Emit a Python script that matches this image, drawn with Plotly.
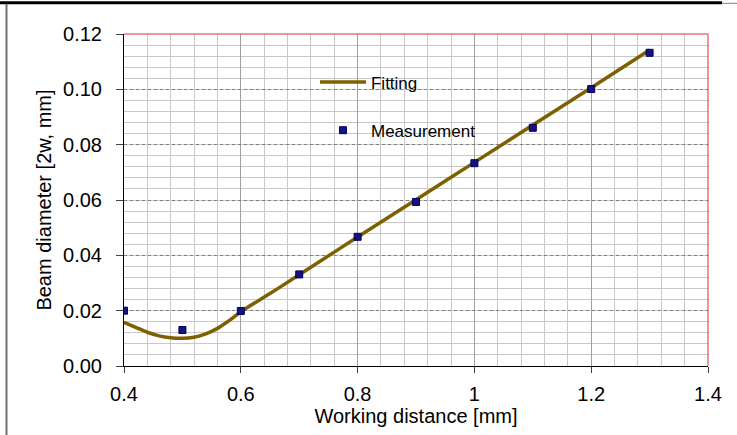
import plotly.graph_objects as go

# Measurement data
meas_x = [0.4, 0.5, 0.6, 0.7, 0.8, 0.9, 1.0, 1.1, 1.2, 1.3]
meas_y = [0.0200, 0.0130, 0.0199, 0.0331, 0.0467, 0.0593, 0.0733, 0.0861, 0.1001, 0.1132]

# Fitting curve
fit_x = [0.40, 0.42, 0.44, 0.46, 0.48, 0.50, 0.52, 0.54, 0.56, 0.58, 0.60, 0.65, 0.70,
         0.80, 0.90, 1.00, 1.10, 1.20, 1.30]
fit_y = [0.0158, 0.0140, 0.0122, 0.0109, 0.0102, 0.0100, 0.0104, 0.0116, 0.0136, 0.0164,
         0.0196, 0.0262, 0.0330, 0.0466, 0.0601, 0.0736, 0.0871, 0.1006, 0.1142]

x_ticks = [0.4, 0.6, 0.8, 1.0, 1.2, 1.4]
x_ticktext = ["0.4", "0.6", "0.8", "1", "1.2", "1.4"]
y_ticks = [0.00, 0.02, 0.04, 0.06, 0.08, 0.10, 0.12]
y_ticktext = ["0.00", "0.02", "0.04", "0.06", "0.08", "0.10", "0.12"]

FONT = "Arial, Liberation Sans, sans-serif"

fig = go.Figure()
fig.add_trace(go.Scatter(
    x=fit_x, y=fit_y, mode="lines", name="Fitting",
    line=dict(color="#7f6000", width=3.5, shape="spline"),
    legendgroup="a",
))
fig.add_trace(go.Scatter(
    x=meas_x, y=meas_y, mode="markers", name="Measurement",
    marker=dict(symbol="square", size=7, color="#14147a",
                line=dict(color="#000066", width=1)),
    legendgroup="b",
))

fig.update_layout(
    width=737, height=435,
    margin=dict(l=124, r=29, t=34, b=67),
    paper_bgcolor="white", plot_bgcolor="white",
    font=dict(family=FONT, size=20, color="black"),
    showlegend=True,
    legend=dict(
        x=0.327, y=0.908, xanchor="left", yanchor="top",
        bgcolor="rgba(0,0,0,0)", borderwidth=0,
        font=dict(family=FONT, size=17, color="black"),
        itemwidth=46, tracegroupgap=23,
    ),
    xaxis=dict(
        range=[0.4, 1.4], tickvals=x_ticks, ticktext=x_ticktext,
        showline=True, linecolor="black", linewidth=1,
        ticks="outside", ticklen=6, tickcolor="#404040",
        ticklabelstandoff=4,
        showgrid=True, gridcolor="#a0a0a0", gridwidth=1,
        zeroline=False,
        minor=dict(dtick=0.04, tick0=0, showgrid=True, gridcolor="#c8c8c8",
                   gridwidth=1, griddash="solid"),
        title=dict(text="Working distance [mm]", font=dict(size=20), standoff=4),
        tickfont=dict(size=20),
    ),
    yaxis=dict(
        range=[0, 0.12], tickvals=y_ticks, ticktext=y_ticktext,
        showline=True, linecolor="black", linewidth=1,
        ticks="outside", ticklen=7, tickcolor="#404040",
        ticklabelstandoff=10,
        showgrid=True, gridcolor="#808080", gridwidth=1, griddash="dot",
        zeroline=False,
        minor=dict(dtick=0.004, tick0=0, showgrid=True, gridcolor="#c8c8c8",
                   gridwidth=1, griddash="solid"),
        title=dict(text="Beam diameter [2w, mm]", font=dict(size=20), standoff=6),
        tickfont=dict(size=20),
    ),
)

# red top and right plot borders
fig.add_shape(type="line", xref="paper", yref="paper", x0=0, x1=1, y0=1, y1=1,
              line=dict(color="#e03030", width=1))
fig.add_shape(type="line", xref="paper", yref="paper", x0=1, x1=1, y0=0, y1=1,
              line=dict(color="#e03030", width=1))

# outer frame lines (paper coords extend outside the plot area)
fig.add_shape(type="line", xref="paper", yref="paper", x0=-0.2123, x1=1.024, y0=1.094, y1=1.094,
              line=dict(color="black", width=3))
fig.add_shape(type="line", xref="paper", yref="paper", x0=1.024, x1=1.05, y0=1.0925, y1=1.0925,
              line=dict(color="#808080", width=1))
fig.add_shape(type="line", xref="paper", yref="paper", x0=-0.2012, x1=-0.2012, y0=1.09, y1=-0.21,
              line=dict(color="#707070", width=2))

fig.write_html("out.html", config={"displayModeBar": False},
               post_script="document.body.style.margin='0';")
